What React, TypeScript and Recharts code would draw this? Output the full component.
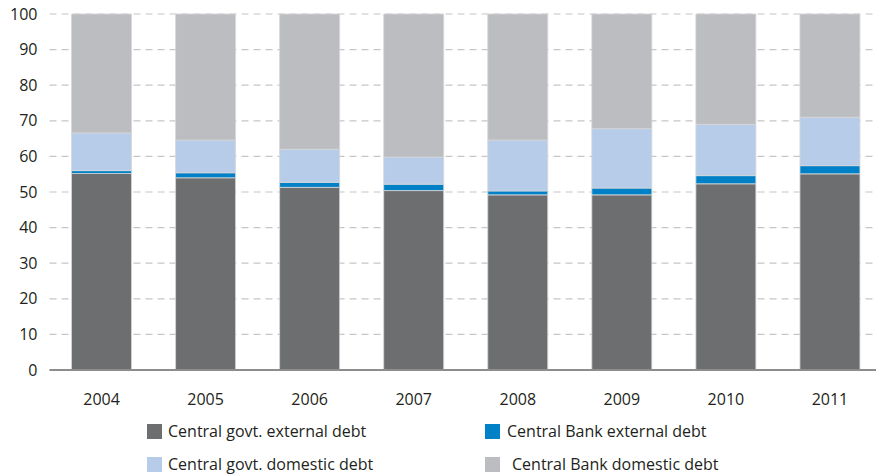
import React from "react";
import { BarChart, Bar, XAxis, YAxis, CartesianGrid } from "recharts";

// Debt composition by year, percent of total
const years = ["2004", "2005", "2006", "2007", "2008", "2009", "2010", "2011"];
const govtExternal = [55.2, 54.0, 51.3, 50.4, 49.2, 49.2, 52.3, 55.1];
const bankExternal = [0.8, 1.4, 1.4, 1.8, 1.1, 1.9, 2.3, 2.3];
const govtDomestic = [10.6, 9.2, 9.3, 7.6, 14.3, 16.7, 14.4, 13.6];
const bankDomestic = [33.4, 35.4, 38.0, 40.2, 35.4, 32.2, 31.0, 29.0];
const yTicks = [0, 10, 20, 30, 40, 50, 60, 70, 80, 90, 100];

const seriesNames = [
  "Central govt. external debt",
  "Central Bank external debt",
  "Central govt. domestic debt",
  "Central Bank domestic debt",
];
const seriesColors = ["#6d6e70", "#0080c6", "#b6cce9", "#bcbdc0"];
const seriesKeys = ["govtExternal", "bankExternal", "govtDomestic", "bankDomestic"];

const data = years.map((year, i) => ({
  year,
  govtExternal: govtExternal[i],
  bankExternal: bankExternal[i],
  govtDomestic: govtDomestic[i],
  bankDomestic: bankDomestic[i],
}));

const FONT = "'Open Sans', sans-serif";
const TEXT = "#231f20";

// Legend laid out in two rows of two entries
const legendOrder = [0, 1, 2, 3];
const legendPos = [
  { left: 147, top: 424, textLeft: 168 },
  { left: 485, top: 424, textLeft: 507 },
  { left: 147, top: 457, textLeft: 168 },
  { left: 485, top: 457, textLeft: 512 },
];

export default function App() {
  return (
    <div
      style={{
        position: "absolute",
        left: 0,
        top: 0,
        width: 876,
        height: 476,
        overflow: "hidden",
        background: "#ffffff",
        fontFamily: FONT,
      }}
    >
      <BarChart
        width={882}
        height={410}
        data={data}
        margin={{ top: 14, right: 0, bottom: 0, left: 0 }}
        barSize={60}
      >
        <CartesianGrid
          vertical={false}
          stroke="#c6c6c8"
          strokeDasharray="7 5"
          strokeWidth={1.2}
        />
        <XAxis
          dataKey="year"
          height={40}
          tickLine={false}
          tickSize={0}
          tickMargin={24}
          axisLine={{ stroke: "#8d8d90", strokeWidth: 2 }}
          tick={{ fill: TEXT, fontSize: 16, fontFamily: FONT }}
        />
        <YAxis
          width={49.5}
          domain={[0, 100]}
          ticks={yTicks}
          interval={0}
          axisLine={false}
          tickLine={false}
          tickSize={0}
          tickMargin={12}
          tick={{ fill: TEXT, fontSize: 16, fontFamily: FONT }}
        />
        {seriesKeys.map((key, i) => (
          <Bar
            key={key}
            dataKey={key}
            name={seriesNames[i]}
            stackId="debt"
            fill={seriesColors[i]}
            stroke="#d6d7d9"
            strokeWidth={0.8}
            isAnimationActive={false}
          />
        ))}
      </BarChart>
      {legendOrder.map((i) => (
        <React.Fragment key={seriesNames[i]}>
          <div
            style={{
              position: "absolute",
              left: legendPos[i].left,
              top: legendPos[i].top,
              width: 15,
              height: 15,
              background: seriesColors[i],
            }}
          />
          <div
            style={{
              position: "absolute",
              left: legendPos[i].textLeft,
              top: legendPos[i].top - 4,
              fontSize: 16,
              lineHeight: "22px",
              color: TEXT,
              whiteSpace: "nowrap",
            }}
          >
            {seriesNames[i]}
          </div>
        </React.Fragment>
      ))}
    </div>
  );
}
